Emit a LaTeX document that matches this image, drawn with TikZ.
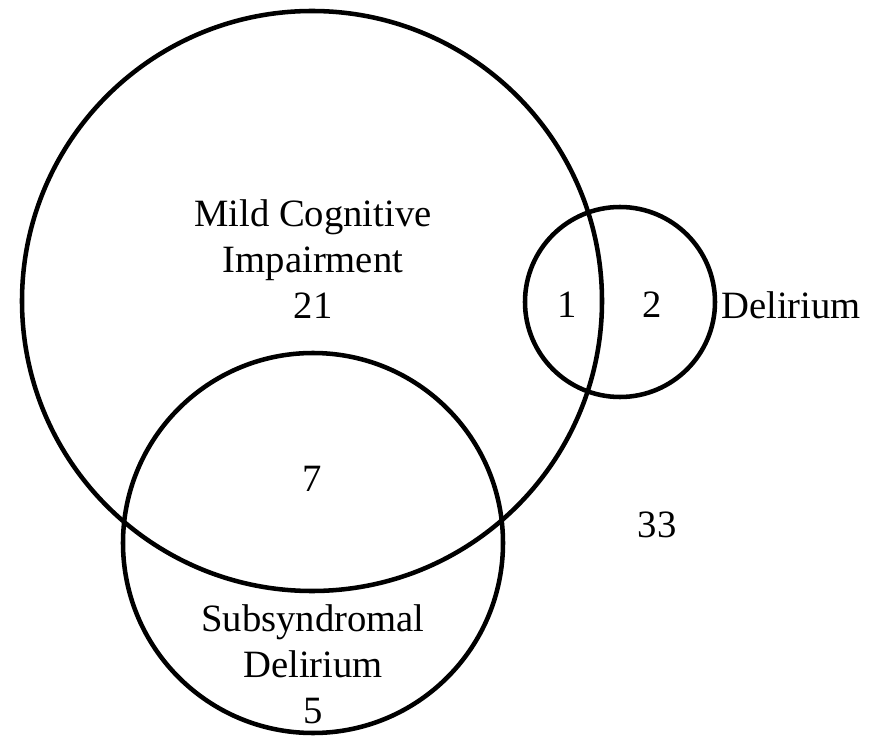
\documentclass[tikz,border=0pt]{standalone}
\usepackage{fontspec}
\setmainfont{Liberation Serif}
\begin{document}
\begin{tikzpicture}[x=0.75pt,y=-0.75pt,
  setcircle/.style={circle,draw=black,line width=3.4pt,inner sep=0pt},
  lbl/.style={font=\fontsize{29}{34.5}\selectfont,inner sep=0pt,align=center}]
\useasboundingbox (0,0) rectangle (883,738);
% the three sets
\node[setcircle,minimum size=435pt]   (mci) at (312,301) {};
\node[setcircle,minimum size=142.5pt] (del) at (620,302) {};
\node[setcircle,minimum size=285pt]   (ssd) at (313,543) {};
% region labels and counts
\node[lbl] (mcitext) at (313,259) {Mild Cognitive\\Impairment\\21};
\node[lbl] (both1) at (567,305) {1};
\node[lbl] (only2) at (652,305) {2};
\node[lbl,anchor=west] (deltext) at (721,305) {Delirium};
\node[lbl] (both7) at (312,479) {7};
\node[lbl] (none) at (657,525) {33};
\node[lbl] (ssdtext) at (313,664) {Subsyndromal\\Delirium\\5};
\end{tikzpicture}
\end{document}
